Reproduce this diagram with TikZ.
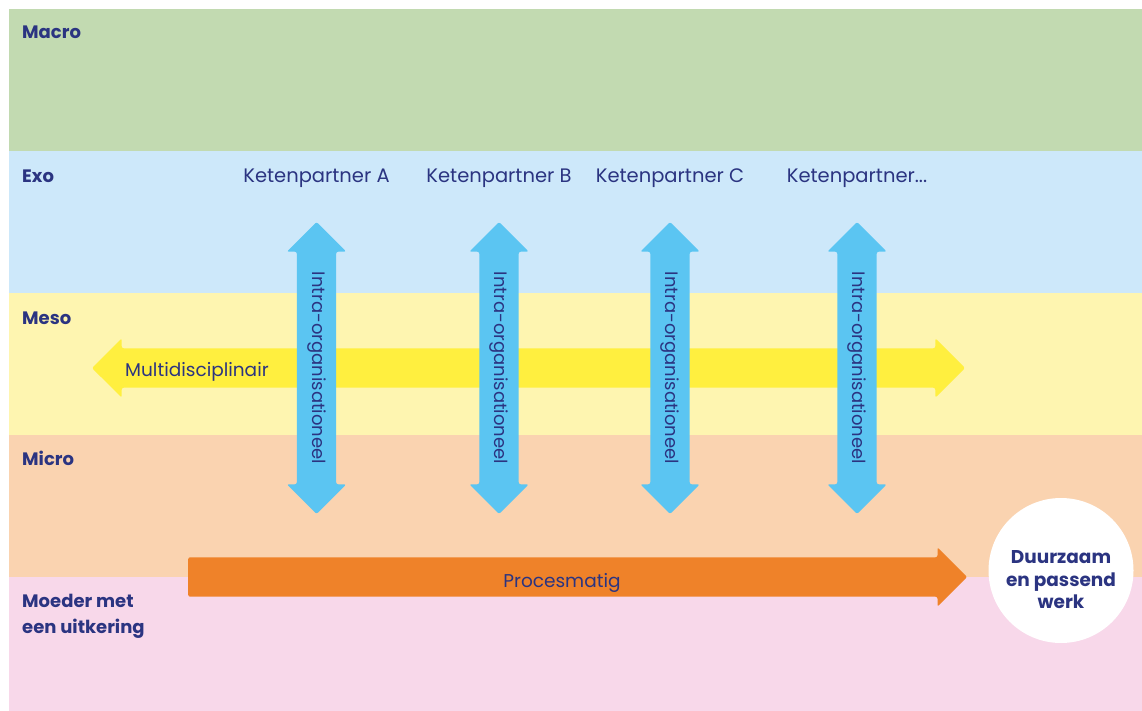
\documentclass[tikz,border=0pt]{standalone}
\usepackage{fontspec}
\setmainfont{Poppins}
\usetikzlibrary{shapes,arrows,positioning,calc}
\definecolor{navy}{HTML}{2B3481}
\definecolor{macrogreen}{HTML}{C2DAB1}
\definecolor{exoblue}{HTML}{CDE8FA}
\definecolor{mesoyellow}{HTML}{FEF5B0}
\definecolor{micropeach}{HTML}{FAD3B0}
\definecolor{moederpink}{HTML}{F8D8EA}
\definecolor{intrablue}{HTML}{5BC5F2}
\definecolor{multiyellow}{HTML}{FFEF3F}
\definecolor{procesorange}{HTML}{EF8229}
\tikzset{
band/.style = {rectangle, draw=none, outer sep=0pt, inner sep=0pt, minimum width=1133pt, minimum height=142pt},
level/.style = {anchor=base west, inner sep=0pt, text=navy, align=left, font=\bfseries\fontsize{18}{26}\selectfont},
partner/.style = {anchor=base, text=navy, font=\fontsize{19.5}{24}\selectfont},
flow/.style = {inner sep=0pt, text=navy, font=\fontsize{18.5}{24}\selectfont},
intra/.style = {double arrow, draw=none, fill=intrablue, rotate=-90, minimum height=292pt, minimum width=59pt, double arrow head extend=10pt, rounded corners=2pt, text height=13pt, text depth=4pt, inner xsep=2pt, inner ysep=11pt, text=navy, font=\fontsize{18}{24}\selectfont},
multi/.style = {double arrow, draw=none, fill=multiyellow, minimum height=873pt, minimum width=59pt, double arrow head extend=10pt, rounded corners=2pt, inner xsep=2pt, inner ysep=19.5pt},
proces/.style = {single arrow, draw=none, fill=procesorange, minimum height=779pt, minimum width=59pt, single arrow head extend=10pt, rounded corners=2pt, inner xsep=2pt, inner ysep=19.5pt},
goal/.style = {circle, draw=none, fill=white, minimum size=145pt, inner sep=0pt}
}
\begin{document}
\begin{tikzpicture}[x=1pt, y=-1pt]
\useasboundingbox (0,0) rectangle (1142,711);
% lagen
\node[band, fill=macrogreen, anchor=north west] (macro) at (9,9) {};
\node[band, fill=exoblue, below=0pt of macro] (exo) {};
\node[band, fill=mesoyellow, below=0pt of exo] (meso) {};
\node[band, fill=micropeach, below=0pt of meso] (micro) {};
\node[band, fill=moederpink, below=0pt of micro, minimum height=134pt] (moeder) {};
\node[level] (lmacro) at ($(macro.north west)+(13,30)$) {Macro};
\node[level] (lexo) at ($(exo.north west)+(13,32)$) {Exo};
\node[level] (lmeso) at ($(meso.north west)+(13,31)$) {Meso};
\node[level] (lmicro) at ($(micro.north west)+(13,30)$) {Micro};
\node[level] (lmoeder) at ($(moeder.north west)+(13,56)$) {Moeder met\\een uitkering};
% pijlen
\node[multi] (multidisc) at (528.5,368) {};
\node[flow, anchor=base west] (lmulti) at (125,376) {Multidisciplinair};
\node[intra] (ia) at (316.5,368) {Intra-organisationeel};
\node[intra] (ib) at (499,368) {Intra-organisationeel};
\node[intra] (ic) at (670,368) {Intra-organisationeel};
\node[intra] (id) at (857,368) {Intra-organisationeel};
\node[partner] (pa) at (316.5,183) {Ketenpartner A};
\node[partner] (pb) at (499,183) {Ketenpartner B};
\node[partner] (pc) at (670,183) {Ketenpartner C};
\node[partner] (pd) at (857,183) {Ketenpartner...};
\node[proces, anchor=tail] (procesmatig) at (188,577) {};
\node[flow, anchor=base] (lproces) at (562,587) {Procesmatig};
\node[goal] (werk) at (1061,570.5) {};
\node[level, anchor=center, align=center, font=\bfseries\fontsize{18.5}{22.5}\selectfont] (lwerk) at (1061,580) {Duurzaam\\en passend\\werk};
\end{tikzpicture}
\end{document}
